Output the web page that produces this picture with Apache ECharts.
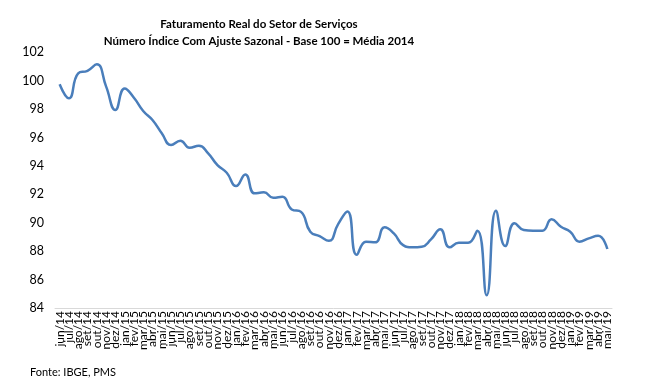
<!DOCTYPE html>
<html><head><meta charset="utf-8">
<script src="https://cdn.jsdelivr.net/npm/echarts@6/dist/echarts.min.js"></script>
<style>html,body{margin:0;padding:0;background:#fff}#c{width:661px;height:385px}</style>
</head><body><div id="c"></div>
<script>
const categories = ["jun/14","jul/14","ago/14","set/14","out/14","nov/14","dez/14",
"jan/15","fev/15","mar/15","abr/15","mai/15","jun/15","jul/15","ago/15","set/15","out/15","nov/15","dez/15",
"jan/16","fev/16","mar/16","abr/16","mai/16","jun/16","jul/16","ago/16","set/16","out/16","nov/16","dez/16",
"jan/17","fev/17","mar/17","abr/17","mai/17","jun/17","jul/17","ago/17","set/17","out/17","nov/17","dez/17",
"jan/18","fev/18","mar/18","abr/18","mai/18","jun/18","jul/18","ago/18","set/18","out/18","nov/18","dez/18",
"jan/19","fev/19","mar/19","abr/19","mai/19"];
const values = [99.75,98.76,100.52,100.7,101.15,99.6,97.94,
99.45,98.8,97.87,97.23,96.3,95.47,95.78,95.28,95.42,94.89,94.06,93.52,
92.58,93.4,92.07,92.14,91.76,91.83,90.94,90.77,89.37,89.06,88.73,89.9,
90.8,87.75,88.67,88.62,89.68,89.25,88.43,88.27,88.31,88.83,89.54,88.27,
88.59,88.59,89.44,84.9,90.85,88.36,89.96,89.49,89.44,89.44,90.24,89.72,
89.37,88.67,88.9,89.08,88.15];
const titleLines = ["Faturamento Real do Setor de Serviços","Número Índice Com Ajuste Sazonal - Base 100 = Média 2014"];
const source = "Fonte: IBGE, PMS";

const chart = echarts.init(document.getElementById('c'));
const FONT = "Lato,'Open Sans',sans-serif";
chart.setOption({
  animation:false,
  backgroundColor:'#fff',
  title:[{
    text: titleLines.join('\n'),
    left: 254, top: 11, textAlign:'center',
    textStyle:{fontFamily:FONT,fontSize:11.5,fontWeight:'bold',color:'#000',lineHeight:17}
  },{
    text: source, left: 25, top: 362,
    textStyle:{fontFamily:FONT,fontSize:11,fontWeight:'normal',color:'#000'}
  }],
  grid:{left:55,right:49,top:52.3,bottom:77,containLabel:false},
  xAxis:{
    type:'category', data:categories, boundaryGap:true,
    axisLine:{lineStyle:{color:'#d9d9d9',width:1}},
    axisTick:{show:false},
    axisLabel:{interval:0,rotate:90,fontFamily:FONT,fontSize:12,color:'#000',margin:3}
  },
  yAxis:{
    type:'value', min:84, max:102, interval:2,
    axisLine:{show:false}, axisTick:{show:false},
    splitLine:{show:false},
    axisLabel:{fontFamily:FONT,fontSize:12.5,color:'#000',margin:11}
  },
  series:[{
    type:'line', data:values, smooth:0.5, showSymbol:false,
    lineStyle:{color:'#4a7ebb',width:2.5}
  }]
});
</script></body></html>
